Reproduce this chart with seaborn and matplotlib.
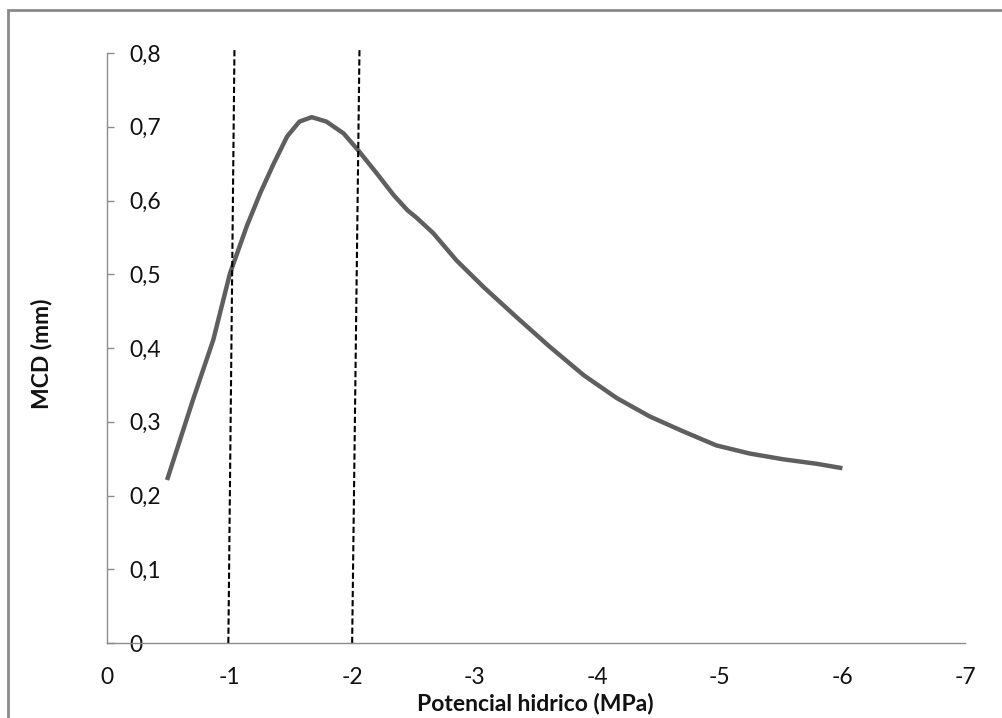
import matplotlib
matplotlib.use("Agg")
import matplotlib.pyplot as plt
import seaborn as sns
import pandas as pd
from matplotlib.patches import Rectangle
from matplotlib.ticker import FuncFormatter

# Curve
potencial = [-0.49, -0.70, -0.867, -1.003, -1.14, -1.25, -1.36, -1.47, -1.57, -1.67,
             -1.79, -1.93, -2.05, -2.20, -2.34, -2.45, -2.53, -2.66, -2.85, -3.07,
             -3.34, -3.61, -3.89, -4.16, -4.43, -4.70, -4.97, -5.24, -5.52, -5.79,
             -6.0]
mcd = [0.221, 0.329, 0.411, 0.501, 0.565, 0.610, 0.650, 0.687, 0.707, 0.713,
       0.707, 0.691, 0.668, 0.637, 0.607, 0.587, 0.576, 0.556, 0.519, 0.483,
       0.442, 0.402, 0.363, 0.332, 0.307, 0.287, 0.268, 0.257, 0.249, 0.243,
       0.237]

# Dashed reference lines (bottom and top ends)
ref1_x = [-0.99, -1.04]
ref2_x = [-2.0, -2.06]
ref_y = [0.0, 0.807]

x_ticks = [0, -1, -2, -3, -4, -5, -6, -7]
y_ticks = [0, 0.1, 0.2, 0.3, 0.4, 0.5, 0.6, 0.7, 0.8]

sns.set_style("white")
plt.rcParams['font.family'] = ['Lato', 'DejaVu Sans']

W, H = 1002, 718
fig = plt.figure(figsize=(W / 100, H / 100), dpi=100)
ax = fig.add_axes([107 / W, 1 - 643 / H, (965 - 107) / W, (643 - 53) / H])

df = pd.DataFrame({"x": potencial, "y": mcd})
sns.lineplot(data=df, x="x", y="y", ax=ax, color="#5f5f5f", linewidth=3.2,
             sort=False, solid_capstyle="butt", solid_joinstyle="round")

for rx in (ref1_x, ref2_x):
    ax.plot(rx, ref_y, color="black", linewidth=1.5, dashes=(3, 1.4),
            clip_on=False)

ax.set_xlim(0, -7)
ax.set_ylim(0, 0.8)
ax.set_xticks(x_ticks)
ax.set_yticks(y_ticks)

fmt = FuncFormatter(lambda v, p: ("%g" % round(v, 2)).replace(".", ","))
ax.xaxis.set_major_formatter(fmt)
ax.yaxis.set_major_formatter(fmt)

axis_color = "#8c8c8c"
for s in ("top", "left"):
    ax.spines[s].set_visible(False)
ax.spines["right"].set_position(("data", 0))
ax.spines["right"].set_color(axis_color)
ax.spines["bottom"].set_color(axis_color)
ax.spines["right"].set_linewidth(1.0)
ax.spines["bottom"].set_linewidth(1.0)
ax.yaxis.set_ticks_position("right")
ax.tick_params(axis="y", direction="out", length=5, width=1.0, color=axis_color,
               pad=11, labelsize=16.5, labelcolor="#111111")
ax.tick_params(axis="x", direction="out", length=6.5, width=1.0, color=axis_color,
               pad=11, labelsize=16.5, labelcolor="#111111")
ax.grid(False)

ax.set_xlabel("")
ax.set_ylabel("")
fig.text(535 / W, 1 - 704 / H, "Potencial hidrico (MPa)", ha="center", va="center",
         fontsize=16.5, fontweight="bold", color="#111111")
fig.text(41 / W, 1 - 354 / H, "MCD (mm)", ha="center", va="center", rotation=90,
         fontsize=16.5, fontweight="bold", color="#111111")

fig.patches.append(Rectangle((8 / W, -0.2), 2.0, 1.2 - 10 / H, transform=fig.transFigure,
                             fill=False, edgecolor="#8a8a8a", linewidth=2.0))

fig.savefig("out.png", dpi=100)
